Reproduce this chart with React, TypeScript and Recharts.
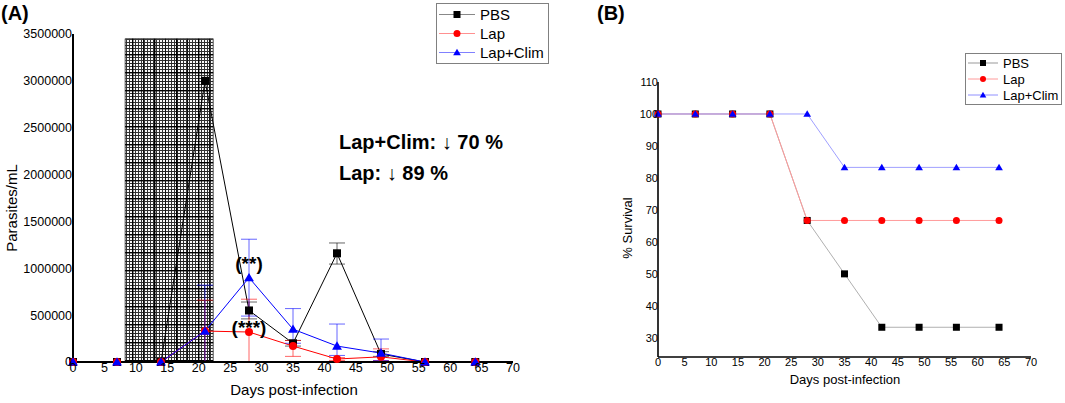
import React from 'react';
import {
  ErrorBar,
  Line,
  LineChart,
  ReferenceArea,
  ReferenceDot,
  XAxis,
  YAxis,
} from 'recharts';

// sampling days (both panels)
const days = [0, 7, 14, 21, 28, 35, 42, 49, 56, 64];

// panel A: parasite load (parasites/mL)
const pbsLoad = [0, 0, 0, 3000000, 550000, 200000, 1160000, 85000, 0, 0];
const lapLoad = [0, 0, 0, 330000, 320000, 170000, 32000, 55000, 0, 0];
const climLoad = [0, 0, 0, 330000, 900000, 350000, 170000, 95000, 0, 0];

// error bars: [below, above]
const pbsErrDown = [0, 0, 0, 0, 90000, 30000, 115000, 25000, 0, 0];
const pbsErrUp = [0, 0, 0, 0, 90000, 30000, 110000, 25000, 0, 0];
const lapErrDown = [0, 0, 0, 330000, 320000, 110000, 15000, 40000, 0, 0];
const lapErrUp = [0, 0, 0, 330000, 350000, 60000, 15000, 85000, 0, 0];
const climErrDown = [0, 0, 0, 330000, 410000, 150000, 100000, 80000, 0, 0];
const climErrUp = [0, 0, 0, 490000, 410000, 220000, 235000, 150000, 0, 0];

// shaded treatment window in panel A
const treatStart = 8.3;
const treatEnd = 22.3;
const treatTop = 3450000;

// panel B: % survival
const pbsSurvival = [100, 100, 100, 100, 66.7, 50, 33.3, 33.3, 33.3, 33.3];
const lapSurvival = [100, 100, 100, 100, 66.7, 66.7, 66.7, 66.7, 66.7, 66.7];
const climSurvival = [100, 100, 100, 100, 100, 83.3, 83.3, 83.3, 83.3, 83.3];

const dayTicks = [0, 5, 10, 15, 20, 25, 30, 35, 40, 45, 50, 55, 60, 65, 70];
const loadTicks = [0, 500000, 1000000, 1500000, 2000000, 2500000, 3000000, 3500000];
const survivalTicks = [30, 40, 50, 60, 70, 80, 90, 100, 110];

const seriesNames = ['PBS', 'Lap', 'Lap+Clim'];

const FONT = '"Liberation Sans", Arial, sans-serif';

const pair = (down: number, up: number) => (down === 0 && up === 0 ? null : [down, up]);

const loadData = days.map((day, i) => ({
  day,
  pbs: pbsLoad[i],
  lap: lapLoad[i],
  clim: climLoad[i],
  pbsErr: pair(pbsErrDown[i], pbsErrUp[i]),
  lapErr: pair(lapErrDown[i], lapErrUp[i]),
  climErr: pair(climErrDown[i], climErrUp[i]),
}));

const survivalData = days.map((day, i) => ({
  day,
  pbs: pbsSurvival[i],
  lap: lapSurvival[i],
  clim: climSurvival[i],
}));

type Shape = 'square' | 'circle' | 'triangle';

function Marker({ shape, x, y, size, color }: { shape: Shape; x: number; y: number; size: number; color: string }) {
  const h = size / 2;
  if (shape === 'square') return <rect x={x - h} y={y - h} width={size} height={size} fill={color} />;
  if (shape === 'circle') return <circle cx={x} cy={y} r={h} fill={color} />;
  return <polygon points={`${x},${y - h * 1.05} ${x - h * 1.1},${y + h * 0.8} ${x + h * 1.1},${y + h * 0.8}`} fill={color} />;
}

const makeDot = (shape: Shape, color: string, size: number) => (props: any) => {
  const { cx, cy, index } = props;
  if (cx == null || cy == null) return <g key={`d-${index}`} />;
  return <Marker key={`d-${index}`} shape={shape} x={cx} y={cy} size={size} color={color} />;
};

const seriesStyle: { shape: Shape; marker: string }[] = [
  { shape: 'square', marker: '#000000' },
  { shape: 'circle', marker: '#ff0000' },
  { shape: 'triangle', marker: '#0000ff' },
];

function LegendBox({ left, top, lineColors, fontSize, rowH, lineW, markerSize, width }: any) {
  return (
    <div
      style={{
        position: 'absolute',
        left,
        top,
        border: '1px solid #808080',
        background: '#fff',
        width,
        padding: '1px 0',
        fontFamily: FONT,
        fontSize,
        color: '#000',
        boxSizing: 'border-box',
      }}
    >
      {seriesNames.map((name, i) => (
        <div key={name} style={{ display: 'flex', alignItems: 'center', height: rowH }}>
          <svg width={lineW + 4} height={rowH} style={{ flex: 'none' }}>
            <line x1={2} x2={lineW + 2} y1={rowH / 2} y2={rowH / 2} stroke={lineColors[i]} strokeWidth={1} />
            <Marker shape={seriesStyle[i].shape} x={lineW / 2 + 2} y={rowH / 2} size={markerSize} color={seriesStyle[i].marker} />
          </svg>
          <span style={{ marginLeft: 3, whiteSpace: 'nowrap' }}>{name}</span>
        </div>
      ))}
    </div>
  );
}

function ParasiteChart() {
  const lineColors = ['#000000', '#ff0000', '#0000ff'];
  const tick = { fontSize: 12.5, fill: '#000', fontFamily: FONT };
  const note = { position: 'center' as const, fontSize: 19, fontWeight: 'bold', fill: '#000', fontFamily: FONT };
  return (
    <LineChart width={540} height={403} data={loadData} margin={{ top: 34, right: 27, bottom: 21, left: 0 }}>
      <XAxis
        dataKey="day"
        type="number"
        domain={[0, 70]}
        ticks={dayTicks}
        interval={0}
        tickLine={false}
        tickSize={0}
        tickMargin={1}
        height={20}
        axisLine={{ stroke: '#000', strokeWidth: 2 }}
        tick={tick}
      />
      <YAxis
        type="number"
        domain={[0, 3500000]}
        ticks={loadTicks}
        interval={0}
        tickLine={false}
        tickSize={0}
        tickMargin={1}
        width={73}
        axisLine={{ stroke: '#000', strokeWidth: 2 }}
        tick={tick}
      />
      <ReferenceArea x1={treatStart} x2={treatEnd} y1={0} y2={treatTop} fill="url(#fineGrid)" fillOpacity={1} stroke="#555" strokeWidth={1} />
      <ReferenceArea x1={treatStart} x2={treatEnd} y1={0} y2={treatTop} fill="url(#coarseGrid)" fillOpacity={1} stroke="none" />
      {(['pbs', 'lap', 'clim'] as const).map((key, i) => (
        <Line
          key={key}
          dataKey={key}
          stroke={lineColors[i]}
          strokeWidth={1}
          isAnimationActive={false}
          dot={makeDot(seriesStyle[i].shape, seriesStyle[i].marker, i === 2 ? 9 : 8)}
          activeDot={false}
        >
          <ErrorBar dataKey={`${key}Err`} direction="y" width={8} stroke={lineColors[i]} strokeWidth={1} strokeOpacity={0.6} />
        </Line>
      ))}
      <ReferenceDot x={28} y={1055000} r={0} fill="none" stroke="none" label={{ value: '(**)', ...note }} />
      <ReferenceDot x={28} y={373000} r={0} fill="none" stroke="none" label={{ value: '(***)', ...note }} />
    </LineChart>
  );
}

function SurvivalChart() {
  const lineColors = ['#b0b0b0', '#ff9a9a', '#a0a0ff'];
  const tick = { fontSize: 11, fill: '#000', fontFamily: FONT };
  return (
    <LineChart width={475} height={403} data={survivalData} margin={{ top: 82, right: 34, bottom: 26, left: 0 }}>
      <XAxis
        dataKey="day"
        type="number"
        domain={[0, 70]}
        ticks={dayTicks}
        interval={0}
        tickLine={false}
        tickSize={0}
        tickMargin={1}
        height={20}
        axisLine={{ stroke: '#000', strokeWidth: 1.6 }}
        tick={tick}
      />
      <YAxis
        type="number"
        domain={[24, 110]}
        ticks={survivalTicks}
        interval={0}
        tickLine={false}
        tickSize={0}
        tickMargin={0}
        width={68}
        axisLine={{ stroke: '#000', strokeWidth: 1.6 }}
        tick={tick}
      />
      {(['pbs', 'lap', 'clim'] as const).map((key, i) => (
        <Line
          key={key}
          dataKey={key}
          stroke={lineColors[i]}
          strokeWidth={1}
          isAnimationActive={false}
          dot={makeDot(seriesStyle[i].shape, seriesStyle[i].marker, 7)}
          activeDot={false}
        />
      ))}
    </LineChart>
  );
}

export default function App() {
  return (
    <div style={{ position: 'fixed', left: 0, top: 0, width: 1065, height: 403, background: '#fff', fontFamily: FONT }}>
      <svg width={0} height={0} style={{ position: 'absolute' }}>
        <defs>
          <pattern id="fineGrid" width={3} height={3} patternUnits="userSpaceOnUse">
            <rect width={3} height={3} fill="#fafafa" />
            <rect width={3} height={1} fill="#333" />
            <rect width={1} height={3} fill="#333" />
          </pattern>
          <pattern id="coarseGrid" width={22} height={18} patternUnits="userSpaceOnUse">
            <rect x={0} y={0} width={22} height={1.4} fill="#000" />
            <rect x={0} y={0} width={1.4} height={18} fill="#000" />
            <rect x={11} y={0} width={1} height={18} fill="#111" />
            <rect x={0} y={9} width={22} height={0.8} fill="#222" />
          </pattern>
        </defs>
      </svg>
      <div style={{ position: 'absolute', left: 0, top: 0 }}>
        <ParasiteChart />
      </div>
      <div style={{ position: 'absolute', left: 590, top: 0 }}>
        <SurvivalChart />
      </div>
      <LegendBox left={436} top={3} lineColors={['#888', '#ff9090', '#8080ff']} fontSize={15} rowH={19} lineW={36} markerSize={7} width={113} />
      <LegendBox left={965} top={53} lineColors={['#999', '#ff9a9a', '#9090ff']} fontSize={13} rowH={16} lineW={30} markerSize={6} width={97} />
      <svg width={1065} height={403} style={{ position: 'absolute', left: 0, top: 0, pointerEvents: 'none' }} fontFamily={FONT}>
        <text x={1} y={20} fontSize={20} fontWeight="bold">(A)</text>
        <text x={597} y={20} fontSize={20} fontWeight="bold">(B)</text>
        <text x={339} y={149} fontSize={20} fontWeight="bold">Lap+Clim: ↓ 70 %</text>
        <text x={339} y={180} fontSize={20} fontWeight="bold">Lap: ↓ 89 %</text>
        <text x={294} y={395} fontSize={15} textAnchor="middle">Days post-infection</text>
        <text x={845} y={384} fontSize={13} textAnchor="middle">Days post-infection</text>
        <text transform="translate(17,208) rotate(-90)" fontSize={15} textAnchor="middle">Parasites/mL</text>
        <text transform="translate(632,228) rotate(-90)" fontSize={13} textAnchor="middle">% Survival</text>
      </svg>
    </div>
  );
}
